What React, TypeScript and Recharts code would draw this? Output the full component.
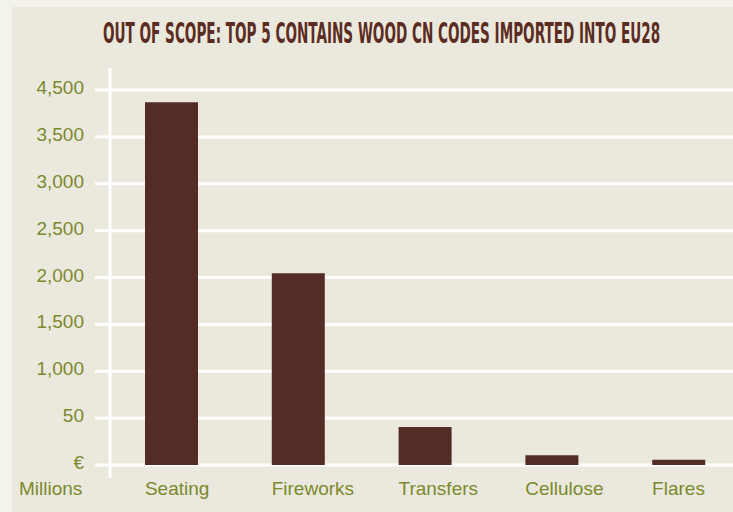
import React, { useLayoutEffect, useRef, useState } from 'react';
import { BarChart, Bar, XAxis, YAxis, CartesianGrid } from 'recharts';

const categories = ['Seating', 'Fireworks', 'Transfers', 'Cellulose', 'Flares'];
const importValues = [3870, 2045, 405, 105, 55];
const yTicks = [0, 500, 1000, 1500, 2000, 2500, 3000, 3500, 4000];
const yTickLabels = ['€', '50', '1,000', '1,500', '2,000', '2,500', '3,000', '3,500', '4,500'];
const unitLabel = 'Millions';
const title = 'OUT OF SCOPE: TOP 5 CONTAINS WOOD CN CODES IMPORTED INTO EU28';

const data = categories.map((name, i) => ({ name, value: importValues[i] }));

const olive = '#7a8a2c';
const font = '"Liberation Sans", Arial, sans-serif';
const titleWidth = 557;

const YTick = ({ x, y, index }: any) => (
    <text x={x} y={y + 4} textAnchor="end" fill={olive} fontSize={19} fontFamily={font}>
        {yTickLabels[index]}
    </text>
);

// labels sit left-aligned with the bar, not centred
const XTick = ({ x, y, payload }: any) => (
    <text x={x - 26.5} y={y + 17} textAnchor="start" fill={olive} fontSize={19} fontFamily={font}>
        {payload.value}
    </text>
);

function Title() {
    const ref = useRef<HTMLSpanElement>(null);
    const [scale, setScale] = useState(0.75);
    useLayoutEffect(() => {
        if (ref.current) setScale(titleWidth / ref.current.offsetWidth);
    }, []);
    return (
        <div style={{ position: 'absolute', left: 103, top: 20, lineHeight: '28px', whiteSpace: 'nowrap', transformOrigin: 'left top', transform: `scaleX(${scale})` }}>
            <span ref={ref} style={{ fontFamily: '"Liberation Sans Narrow", "DejaVu Sans Condensed", sans-serif', fontWeight: 'bold', fontSize: 28, color: '#5b2d22' }}>
                {title}
            </span>
        </div>
    );
}

export default function App() {
    return (
        <div style={{ position: 'fixed', left: 0, top: 0, width: 733, height: 512, overflow: 'hidden', background: '#f3f2eb' }}>
            <div style={{ position: 'absolute', left: 12, top: 7, right: 0, bottom: 0, background: '#ebe8de' }} />
            <div style={{ position: 'absolute', left: 0, top: 0 }}>
                <BarChart width={744} height={512} data={data} margin={{ top: 68, right: 0, left: 0, bottom: 0 }}>
                    <CartesianGrid vertical={false} horizontalValues={yTicks} stroke="#ffffff" strokeWidth={3} />
                    <XAxis dataKey="name" axisLine={false} tickLine={false} tickSize={0} tickMargin={0} height={34} tick={<XTick />} interval={0} padding={{ left: -2, right: 2 }} />
                    <YAxis
                        width={110}
                        domain={[0, 4000]}
                        ticks={yTicks}
                        padding={{ top: 22, bottom: 13 }}
                        axisLine={{ stroke: '#ffffff', strokeWidth: 3 }}
                        tickLine={{ stroke: '#ffffff', strokeWidth: 3 }}
                        tickSize={15}
                        tickMargin={11}
                        tick={<YTick />}
                        interval={0}
                    />
                    <Bar dataKey="value" fill="#532d25" barSize={53} isAnimationActive={false} />
                </BarChart>
            </div>
            <Title />
            <svg width={120} height={512} style={{ position: 'absolute', left: 0, top: 0, pointerEvents: 'none' }}>
                <text x={19} y={495} fill={olive} fontSize={19} fontFamily={font}>
                    {unitLabel}
                </text>
            </svg>
        </div>
    );
}
